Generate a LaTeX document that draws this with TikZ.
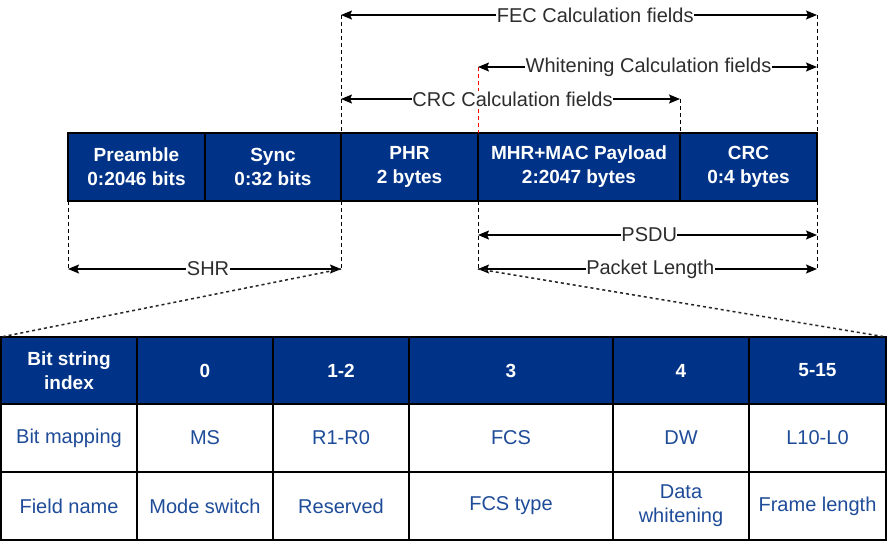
\documentclass[tikz,border=0pt]{standalone}
\usepackage{fontspec}
\setmainfont{Liberation Sans}
\usetikzlibrary{arrows.meta}
\definecolor{navy}{RGB}{0,51,136}
\definecolor{celltext}{RGB}{31,76,153}
\definecolor{labelgray}{RGB}{45,45,45}
\begin{document}
\begin{tikzpicture}[x=1pt,y=-1pt,
  cell/.style={draw=black,line width=1.2pt,inner sep=0pt,outer sep=0pt,align=center},
  head/.style={cell,fill=navy,text=white,font=\fontsize{19}{24}\selectfont\bfseries},
  body/.style={cell,fill=white,text=celltext,font=\fontsize{20}{24}\selectfont},
  dimline/.style={line width=1.4pt,{Stealth[length=11pt,width=9pt,inset=2pt]}-{Stealth[length=11pt,width=9pt,inset=2pt]}},
  lbl/.style={fill=white,text=labelgray,inner sep=0.5pt,font=\fontsize{20}{24}\selectfont},
  guide/.style={line width=1pt,dash pattern=on 4pt off 3pt},
  redguide/.style={guide,draw=red},
  zoomline/.style={line width=1.5pt,draw=black!85,dash pattern=on 3pt off 3pt}
]
\useasboundingbox (0,0) rectangle (889,544);
% top bar
\node[head,minimum width=137pt,minimum height=68pt] (pre) at (136.5,167) {Preamble\\0:2046 bits};
\node[head,minimum width=136pt,minimum height=68pt] (sync) at (273,167) {Sync\\0:32 bits};
\node[head,minimum width=137pt,minimum height=68pt] (phr) at (409.5,167) {PHR\\2 bytes};
\node[head,minimum width=202pt,minimum height=68pt] (mhr) at (579,167) {MHR+MAC Payload\\2:2047 bytes};
\node[head,minimum width=137pt,minimum height=68pt] (crc) at (748.5,167) {CRC\\0:4 bytes};
% coordinates
\coordinate (fecL) at (341,15);
\coordinate (fecR) at (817,15);
\coordinate (whL) at (478,67);
\coordinate (whR) at (817,67);
\coordinate (crcL) at (341,99);
\coordinate (crcR) at (680,99);
\coordinate (shrL) at (68,269);
\coordinate (shrR) at (341,269);
\coordinate (psL) at (478,235);
\coordinate (psR) at (817,235);
\coordinate (plL) at (478,269);
\coordinate (plR) at (817,269);
% guides above
\draw[guide] (fecL) -- (phr.north west);
\draw[guide] (fecR) -- (crc.north east);
\draw[guide] (crcR) -- (crc.north west);
\draw[redguide] (whL) -- (mhr.north west);
% guides below
\draw[guide] (pre.south west) -- (shrL);
\draw[guide] (sync.south east) -- (shrR);
\draw[guide] (mhr.south west) -- (plL);
\draw[guide] (crc.south east) -- (plR);
% dimension arrows
\draw[dimline] (fecL) -- node[lbl,pos=0.534] {FEC Calculation fields} (fecR);
\draw[dimline] (whL) -- node[lbl,pos=0.503] {Whitening Calculation fields} (whR);
\draw[dimline] (crcL) -- node[lbl,pos=0.506] {CRC Calculation fields} (crcR);
\draw[dimline] (shrL) -- node[lbl,pos=0.513] {SHR} (shrR);
\draw[dimline] (psL) -- node[lbl,pos=0.505] {PSDU} (psR);
\draw[dimline] (plL) -- node[lbl,pos=0.508] {Packet Length} (plR);
% table
\node[head,minimum width=136pt,minimum height=67pt] (h0) at (69,370.5) {Bit string\\index};
\node[head,minimum width=136pt,minimum height=67pt] (h1) at (205,370.5) {0};
\node[head,minimum width=136pt,minimum height=67pt] (h2) at (341,370.5) {1-2};
\node[head,minimum width=204pt,minimum height=67pt] (h3) at (511,370.5) {3};
\node[head,minimum width=136pt,minimum height=67pt] (h4) at (681,370.5) {4};
\node[head,minimum width=137pt,minimum height=67pt] (h5) at (817.5,370.5) {5-15};
\node[body,minimum width=136pt,minimum height=68pt] (b0) at (69,438) {Bit mapping};
\node[body,minimum width=136pt,minimum height=68pt] (b1) at (205,438) {MS};
\node[body,minimum width=136pt,minimum height=68pt] (b2) at (341,438) {R1-R0};
\node[body,minimum width=204pt,minimum height=68pt] (b3) at (511,438) {FCS};
\node[body,minimum width=136pt,minimum height=68pt] (b4) at (681,438) {DW};
\node[body,minimum width=137pt,minimum height=68pt] (b5) at (817.5,438) {L10-L0};
\node[body,minimum width=136pt,minimum height=68pt] (c0) at (69,506) {Field name};
\node[body,minimum width=136pt,minimum height=68pt] (c1) at (205,506) {Mode switch};
\node[body,minimum width=136pt,minimum height=68pt] (c2) at (341,506) {Reserved};
\node[body,minimum width=204pt,minimum height=68pt] (c3) at (511,506) {FCS type};
\node[body,minimum width=136pt,minimum height=68pt] (c4) at (681,506) {Data\\whitening};
\node[body,minimum width=137pt,minimum height=68pt] (c5) at (817.5,506) {Frame length};
% zoom lines
\draw[zoomline] (shrR) -- (h0.north west);
\draw[zoomline] (plL) -- (h5.north east);
\end{tikzpicture}
\end{document}
